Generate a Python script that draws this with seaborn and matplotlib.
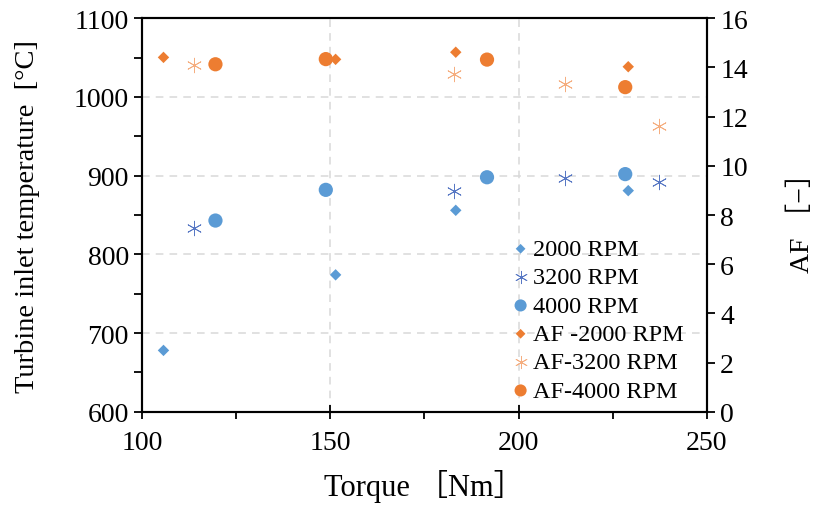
import matplotlib
matplotlib.use("Agg")
import matplotlib.pyplot as plt
import seaborn as sns
import pandas as pd
from matplotlib.ticker import MultipleLocator

# Turbine inlet temperature [°C] vs torque [Nm]
torque_2000 = [105.7, 151.4, 183.3, 229.1]
tit_2000 = [678, 774, 856, 881]
torque_3200 = [113.7, 182.9, 212.3, 237.2]
tit_3200 = [834, 880, 897, 892]
torque_4000 = [119.5, 148.8, 191.6, 228.3]
tit_4000 = [843, 882, 898, 902]

# Air-fuel ratio [-] vs torque [Nm]
af_2000 = [14.41, 14.33, 14.62, 14.03]
af_3200 = [14.11, 13.72, 13.31, 11.62]
af_4000 = [14.13, 14.34, 14.32, 13.20]

labels = ["2000 RPM", "3200 RPM", "4000 RPM",
          "AF -2000 RPM", "AF-3200 RPM", "AF-4000 RPM"]

BLUE = "#5B9BD5"
BLUE_STAR = "#5878C4"
ORANGE = "#ED7D31"
ORANGE_STAR = "#F5AE80"
STAR = (6, 2, 0)

sns.set_theme(style="white")
plt.rcParams["font.family"] = ["Liberation Serif", "Noto Sans CJK JP", "DejaVu Sans"]
plt.rcParams["mathtext.fontset"] = "stix"
for key in ("text.color", "axes.labelcolor", "xtick.color", "ytick.color"):
    plt.rcParams[key] = "black"

fig = plt.figure(figsize=(8.19, 5.10), dpi=100)
ax = fig.add_axes([0.1734, 0.1906, 0.6898, 0.7716])
ax2 = ax.twinx()

left = [
    (torque_2000, tit_2000, labels[0], BLUE, "D", 34, 0),
    (torque_3200, tit_3200, labels[1], BLUE_STAR, STAR, 110, 0.6),
    (torque_4000, tit_4000, labels[2], BLUE, "o", 105, 0),
]
right = [
    (torque_2000, af_2000, labels[3], ORANGE, "D", 34, 0),
    (torque_3200, af_3200, labels[4], ORANGE_STAR, STAR, 110, 0.6),
    (torque_4000, af_4000, labels[5], ORANGE, "o", 105, 0),
]

for axis, series in ((ax, left), (ax2, right)):
    for xs, ys, lab, col, mk, size, lw in series:
        df = pd.DataFrame({"x": xs, "y": ys})
        if mk == STAR:
            sns.scatterplot(data=df, x="x", y="y", ax=axis, marker=mk, s=size,
                            color=col, edgecolor=col, linewidth=lw, label=lab,
                            zorder=3)
        else:
            sns.scatterplot(data=df, x="x", y="y", ax=axis, marker=mk, s=size,
                            color=col, edgecolor="none", linewidth=0, label=lab,
                            zorder=3)

ax.set_xlim(100, 250)
ax.set_ylim(600, 1100)
ax2.set_ylim(0, 16)

ax.xaxis.set_major_locator(MultipleLocator(50))
ax.xaxis.set_minor_locator(MultipleLocator(25))
ax.yaxis.set_major_locator(MultipleLocator(100))
ax.yaxis.set_minor_locator(MultipleLocator(50))
ax2.yaxis.set_major_locator(MultipleLocator(2))

grid_kw = dict(color="#D9D9D9", linestyle=(0, (5, 4)), linewidth=1.1)
ax.grid(True, axis="y", which="major", **grid_kw)
ax.grid(True, axis="x", which="major", **grid_kw)
ax.set_axisbelow(True)
ax2.grid(False)

for a in (ax, ax2):
    for sp in a.spines.values():
        sp.set_color("black")
        sp.set_linewidth(1.5)

ax.tick_params(axis="x", which="major", direction="inout", length=10, width=1.3,
               labelsize=20, pad=8, bottom=True)
ax.tick_params(axis="x", which="minor", direction="out", length=5, width=1.3,
               bottom=True)
ax.tick_params(axis="y", which="both", direction="out", length=6, width=1.3,
               labelsize=20, left=True)
ax2.tick_params(axis="y", which="major", direction="out", length=6, width=1.3,
                labelsize=20, right=True)

ax.set_xlabel("Torque ［Nm］", fontsize=22, labelpad=10)
ax.set_ylabel("Turbine inlet temperature  [°C]", fontsize=20.5, labelpad=24)
ax2.set_ylabel("AF ［−］", fontsize=20, labelpad=30)

ax.get_legend().remove()
h1, l1 = ax.get_legend_handles_labels()
h2, l2 = ax2.get_legend_handles_labels()
leg = ax2.legend(h1 + h2, l1 + l2, loc="upper left",
                 bbox_to_anchor=(0.64, 0.466), frameon=False, fontsize=17.5,
                 handlelength=0.6, handletextpad=0.2, labelspacing=0.26,
                 borderaxespad=0, markerscale=0.85)

fig.savefig("out.png", dpi=100)
